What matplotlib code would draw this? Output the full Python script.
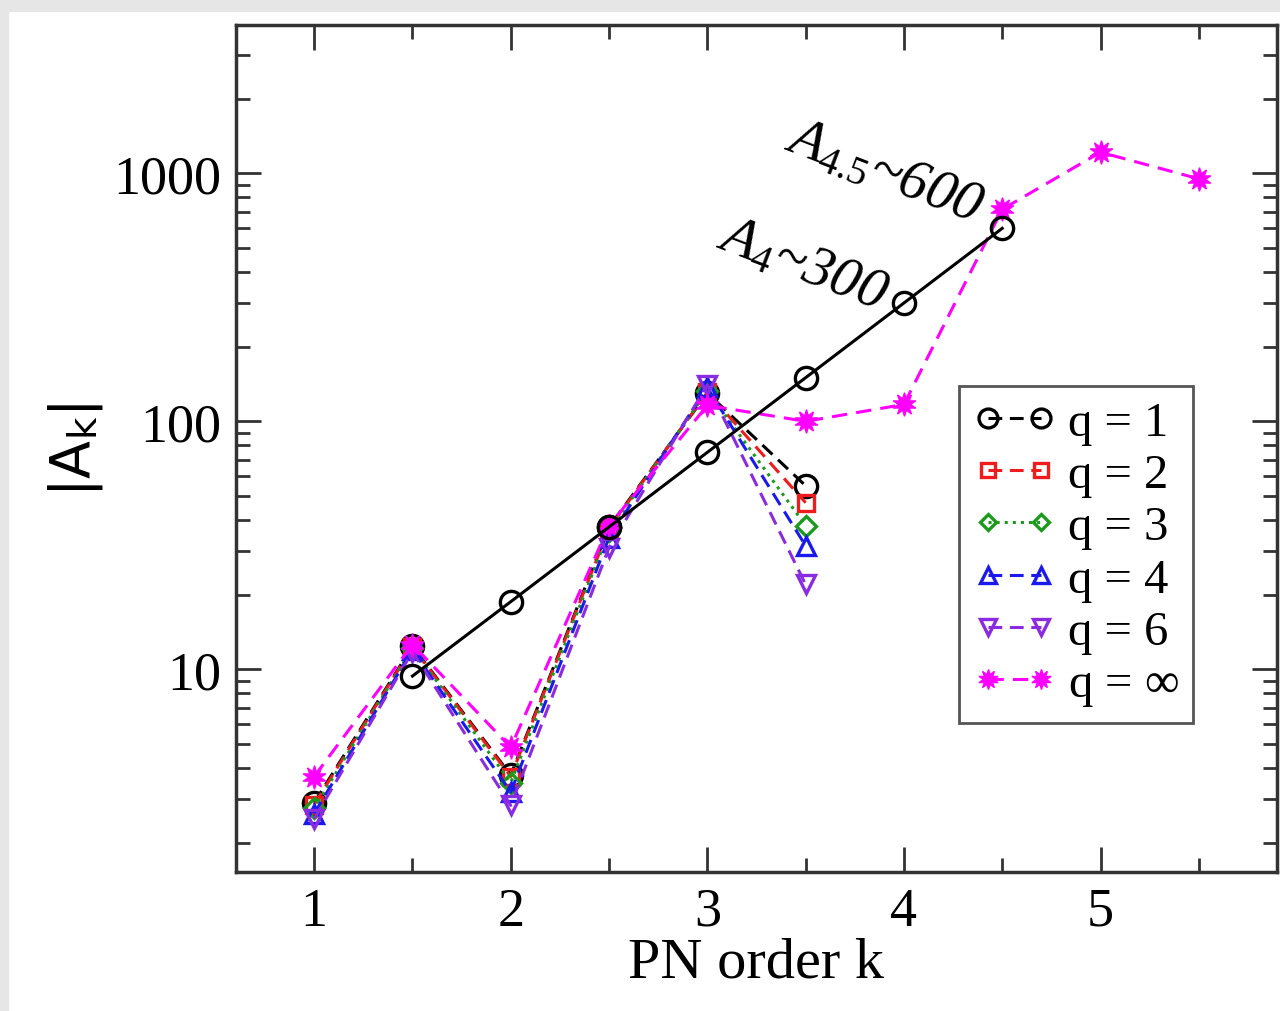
import numpy as np
import matplotlib.pyplot as plt
from matplotlib.patches import Rectangle
from matplotlib.ticker import LogLocator, NullFormatter, FixedLocator

plt.rcParams['font.family'] = ['Liberation Serif', 'DejaVu Serif']
plt.rcParams['mathtext.fontset'] = 'custom'
plt.rcParams['mathtext.rm'] = 'Liberation Serif'
plt.rcParams['mathtext.it'] = 'Liberation Serif:italic'

# PN orders
k = [1.0, 1.5, 2.0, 2.5, 3.0, 3.5]
k_inf = [1.0, 1.5, 2.0, 2.5, 3.0, 3.5, 4.0, 4.5, 5.0, 5.5]
k_fit = [1.5, 2.0, 2.5, 3.0, 3.5, 4.0, 4.5]

# |A_k| for each mass ratio
A_q1 = [2.9, 12.4, 3.75, 37.5, 130, 55]
A_q2 = [2.85, 12.3, 3.7, 37, 131, 47]
A_q3 = [2.75, 12.2, 3.5, 36, 133, 38]
A_q4 = [2.62, 12.0, 3.2, 34, 137, 31.5]
A_q6 = [2.5, 11.8, 2.83, 31, 140, 22]
A_qinf = [3.7, 12.6, 4.85, 38, 116, 100, 117, 716, 1216, 950]
A_fit = [9.4, 18.75, 37.5, 75, 150, 300, 600]

fig = plt.figure(figsize=(12.8, 10.12), dpi=100)
ax = fig.add_axes([0.184, 0.137, 0.814, 0.837])

# grey frame strips of the screenshot
fig.patches.append(Rectangle((0, 1 - 12/1012), 1, 12/1012, transform=fig.transFigure,
                             color='#e6e6e6', zorder=-10))
fig.patches.append(Rectangle((0, 0), 8/1280, 1, transform=fig.transFigure,
                             color='#e6e6e6', zorder=-10))

lw = 2.2
ax.plot(k_fit, A_fit, '-', color='black', lw=lw, marker='o', ms=16,
        mfc='none', mew=2.4, zorder=5)
ax.plot(k, A_q1, '--', color='black', lw=lw, marker='o', ms=16, mfc='none',
        mew=2.4, dashes=(4.5, 2.5), label='q = 1')
ax.plot(k, A_q2, '--', color='#ee1c1c', lw=lw, marker='s', ms=12, mfc='none',
        mew=2.4, dashes=(4.5, 2.5), label='q = 2')
ax.plot(k, A_q3, ':', color='#1c9a1c', lw=lw, marker='D', ms=10, mfc='none',
        mew=2.4, label='q = 3')
ax.plot(k, A_q4, '--', color='#1a1aee', lw=lw, marker='^', ms=13, mfc='none',
        mew=2.4, dashes=(4.5, 2.5), label='q = 4')
ax.plot(k, A_q6, '--', color='#8a2be2', lw=lw, marker='v', ms=13, mfc='none',
        mew=2.4, dashes=(4.5, 2.5), label='q = 6')
ax.plot(k_inf, A_qinf, '--', color='#ff00ff', lw=lw, marker=(10, 1, 0), ms=17,
        mew=1, dashes=(5, 3), label=r'q = $\infty$')

ax.set_yscale('log')
ax.set_xlim(0.6, 5.9)
ax.set_ylim(1.52, 3950)

ax.xaxis.set_major_locator(FixedLocator([1, 2, 3, 4, 5]))
ax.xaxis.set_minor_locator(FixedLocator([1.5, 2.5, 3.5, 4.5, 5.5]))
ax.yaxis.set_major_locator(FixedLocator([10, 100, 1000]))
ax.yaxis.set_minor_locator(LogLocator(base=10, subs=np.arange(2, 10)))
ax.yaxis.set_minor_formatter(NullFormatter())
ax.set_yticklabels(['10', '100', '1000'])

ax.tick_params(which='both', direction='in', top=True, right=True, width=2,
               color='#333333', labelsize=39)
ax.tick_params(which='major', length=18, pad=10)
ax.tick_params(which='minor', length=10)
for s in ax.spines.values():
    s.set_linewidth(2.5)
    s.set_color('#333333')

ax.set_xlabel('PN order k', fontsize=42, labelpad=0)
ax.set_ylabel(r'|A$_\mathsf{k}$|', fontsize=40, family='DejaVu Sans', labelpad=6)

ax.text(3.9, 1010, r'$A_{4.5}$~600', fontsize=41, rotation=-21,
        ha='center', va='center', style='italic')
ax.text(3.48, 430, r'$A_4$~300', fontsize=41, rotation=-21,
        ha='center', va='center', style='italic')

leg = ax.legend(loc='upper left', bbox_to_anchor=(0.694, 0.574), fontsize=35,
                numpoints=2, handlelength=1.7, handletextpad=0.25,
                labelspacing=0.17, borderpad=0.3, borderaxespad=0,
                fancybox=False, framealpha=1, edgecolor='#555555',
                markerscale=0.85)
leg.get_frame().set_linewidth(2)

fig.savefig('out.png', dpi=100)
